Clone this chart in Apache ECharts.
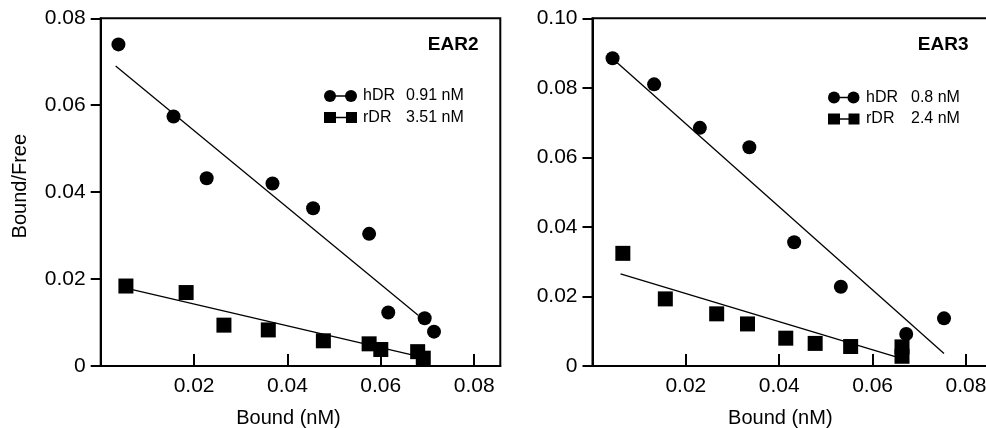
<!DOCTYPE html>
<html>
<head>
<meta charset="utf-8">
<script src="https://cdn.jsdelivr.net/npm/echarts@6/dist/echarts.min.js"></script>
<style>
html,body{margin:0;padding:0;background:#fff;}
#chart{width:986px;height:428px;}
</style>
</head>
<body>
<div id="chart"></div>
<script>
// ---- Data ----
var panelTitles = ['EAR2', 'EAR3'];
var seriesNames = ['hDR', 'rDR'];
var kdLeft = ['0.91 nM', '3.51 nM'];
var kdRight = ['0.8 nM', '2.4 nM'];
var xAxisTitle = 'Bound (nM)';
var yAxisTitle = 'Bound/Free';
var xTickValues = [0.02, 0.04, 0.06, 0.08];
var xTickLabels = ['0.02', '0.04', '0.06', '0.08'];
var yTickLabelsLeft = ['0', '0.02', '0.04', '0.06', '0.08'];
var yTickLabelsRight = ['0', '0.02', '0.04', '0.06', '0.08', '0.10'];

// EAR2 panel
var ear2_hDR = [[0.0038,0.0740],[0.0156,0.0574],[0.0227,0.0432],[0.0368,0.0420],[0.0455,0.0363],[0.0575,0.0304],[0.0616,0.0123],[0.0694,0.0110],[0.0714,0.0079]];
var ear2_rDR = [[0.0054,0.0184],[0.0183,0.0169],[0.0264,0.0094],[0.0359,0.0083],[0.0477,0.0058],[0.0575,0.0051],[0.0600,0.0038],[0.0679,0.0033],[0.0691,0.0018]];
var ear2_hDR_fit = [[0.0032,0.0690],[0.0680,0.0117]];
var ear2_rDR_fit = [[0.0054,0.0179],[0.0685,0.0021]];

// EAR3 panel
var ear3_hDR = [[0.0043,0.0885],[0.0132,0.0810],[0.0230,0.0685],[0.0336,0.0629],[0.0432,0.0356],[0.0532,0.0228],[0.0672,0.0092],[0.0753,0.0137]];
var ear3_rDR = [[0.0065,0.0324],[0.0156,0.0193],[0.0266,0.0150],[0.0332,0.0121],[0.0414,0.0080],[0.0477,0.0065],[0.0553,0.0056],[0.0663,0.0055],[0.0663,0.0028]];
var ear3_hDR_fit = [[0.0053,0.0872],[0.0753,0.0036]];
var ear3_rDR_fit = [[0.0060,0.0265],[0.0668,0.0019]];

// ---- Chart ----
var FONT = '"Liberation Sans", Arial, Helvetica, sans-serif';
var chart = echarts.init(document.getElementById('chart'), null, {renderer: 'canvas'});

function xAxisCfg(gridIndex) {
  return {
    type: 'value', gridIndex: gridIndex, min: 0, max: 0.0856,
    name: xAxisTitle, nameLocation: 'middle', nameGap: 42,
    nameTextStyle: {fontFamily: FONT, fontSize: 20, color: '#000', padding: [0, 24, 0, 0]},
    axisLine: {show: true, lineStyle: {color: '#000', width: 2}},
    axisTick: {show: true, inside: true, length: 12, customValues: xTickValues, lineStyle: {color: '#000', width: 2}},
    axisLabel: {show: true, customValues: xTickValues, margin: 10, fontFamily: FONT, fontSize: 21, color: '#000',
      formatter: function (v) { return xTickLabels[Math.round(v / 0.02) - 1]; }},
    splitLine: {show: false}
  };
}
function yAxisCfg(gridIndex, max, labels, withName) {
  var c = {
    type: 'value', gridIndex: gridIndex, min: 0, max: max, interval: 0.02,
    axisLine: {show: true, lineStyle: {color: '#000', width: 2}},
    axisTick: {show: true, inside: false, length: 10, lineStyle: {color: '#000', width: 2}},
    axisLabel: {show: true, margin: 15, fontFamily: FONT, fontSize: 21, color: '#000',
      formatter: function (v) { return labels[Math.round(v / 0.02)]; }},
    splitLine: {show: false}
  };
  if (withName) {
    c.name = yAxisTitle; c.nameLocation = 'middle'; c.nameGap = 70;
    c.nameTextStyle = {fontFamily: FONT, fontSize: 20, color: '#000', padding: [0, 0, 0, 12]};
  }
  return c;
}
function scatter(name, data, gi, symbol, size) {
  return {type: 'scatter', name: name, xAxisIndex: gi, yAxisIndex: gi, data: data,
    symbol: symbol, symbolSize: size, itemStyle: {color: '#000', opacity: 1}, silent: true, z: 3};
}
function fit(data, gi) {
  return {type: 'line', xAxisIndex: gi, yAxisIndex: gi, data: data, symbol: 'none',
    lineStyle: {color: '#000', width: 1.3}, silent: true, z: 2};
}

function legendGroup(x1, x2, y1, y2, textX, kdX, kd) {
  var els = [];
  els.push({type: 'line', shape: {x1: x1, y1: y1, x2: x2, y2: y1}, style: {stroke: '#000', lineWidth: 1.5}});
  els.push({type: 'circle', shape: {cx: x1, cy: y1, r: 6}, style: {fill: '#000'}});
  els.push({type: 'circle', shape: {cx: x2, cy: y1, r: 6}, style: {fill: '#000'}});
  els.push({type: 'line', shape: {x1: x1, y1: y2, x2: x2, y2: y2}, style: {stroke: '#000', lineWidth: 1.5}});
  els.push({type: 'rect', shape: {x: x1 - 6, y: y2 - 5.5, width: 12, height: 11}, style: {fill: '#000'}});
  els.push({type: 'rect', shape: {x: x2 - 5, y: y2 - 5.5, width: 11, height: 11}, style: {fill: '#000'}});
  [y1, y2].forEach(function (yy, i) {
    els.push({type: 'text', x: textX, y: yy, style: {text: seriesNames[i], font: '16px ' + FONT, fill: '#000', textVerticalAlign: 'middle'}});
    els.push({type: 'text', x: kdX, y: yy, style: {text: kd[i], font: '16px ' + FONT, fill: '#000', textVerticalAlign: 'middle'}});
  });
  return els;
}

var graphics = [];
graphics.push({type: 'text', x: 478.5, y: 45, style: {text: panelTitles[0], font: 'bold 19px ' + FONT, fill: '#000', textAlign: 'right', textVerticalAlign: 'middle'}});
graphics.push({type: 'text', x: 968.5, y: 45, style: {text: panelTitles[1], font: 'bold 19px ' + FONT, fill: '#000', textAlign: 'right', textVerticalAlign: 'middle'}});
graphics = graphics.concat(legendGroup(330, 351, 96, 117.5, 363, 406, kdLeft));
graphics = graphics.concat(legendGroup(834, 853.5, 97.5, 119, 866, 911, kdRight));

chart.setOption({
  animation: false,
  backgroundColor: '#fff',
  grid: [
    {left: 100.7, top: 18.3, width: 399.6, height: 347.7, containLabel: false, outerBoundsMode: 'none',
     show: true, borderColor: '#000', borderWidth: 2, backgroundColor: 'transparent'},
    {left: 592.5, top: 18.3, width: 399.6, height: 347.7, containLabel: false, outerBoundsMode: 'none',
     show: true, borderColor: '#000', borderWidth: 2, backgroundColor: 'transparent'}
  ],
  xAxis: [xAxisCfg(0), xAxisCfg(1)],
  yAxis: [yAxisCfg(0, 0.08, yTickLabelsLeft, true), yAxisCfg(1, 0.1, yTickLabelsRight, false)],
  series: [
    fit(ear2_hDR_fit, 0), fit(ear2_rDR_fit, 0),
    scatter(seriesNames[0], ear2_hDR, 0, 'circle', 14),
    scatter(seriesNames[1], ear2_rDR, 0, 'rect', 15),
    fit(ear3_hDR_fit, 1), fit(ear3_rDR_fit, 1),
    scatter(seriesNames[0], ear3_hDR, 1, 'circle', 14),
    scatter(seriesNames[1], ear3_rDR, 1, 'rect', 15)
  ],
  graphic: graphics
});
</script>
</body>
</html>
